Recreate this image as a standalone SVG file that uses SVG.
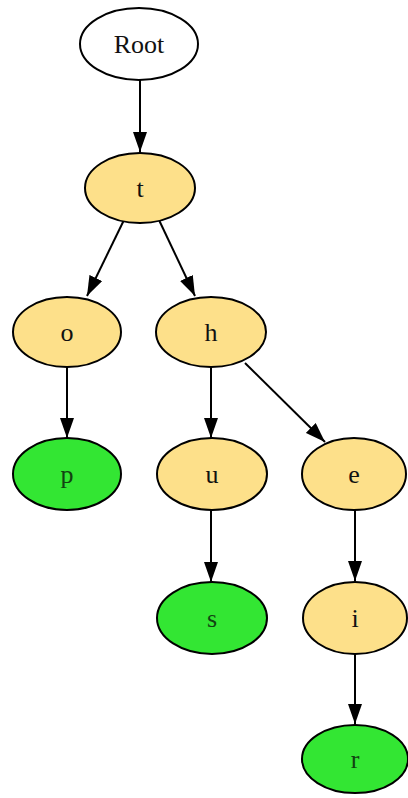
<svg xmlns="http://www.w3.org/2000/svg" width="408" height="798" viewBox="0 0 408 798">
<defs>
<style>
.n{stroke:#000;stroke-width:2}
.w{fill:#fff}
.y{fill:#fde08a}
.g{fill:#33e633}
text{font-family:"Liberation Serif","Times New Roman",serif;font-size:26px;text-anchor:middle;dominant-baseline:central;fill:#111}
.gt{fill:#124212}
.e{stroke:#000;stroke-width:2;fill:none;marker-end:url(#ah)}
</style>
<marker id="ah" markerUnits="userSpaceOnUse" markerWidth="20" markerHeight="14" refX="20" refY="7" orient="auto">
<path d="M0,0 L20,7 L0,14 z" fill="#000"/>
</marker>
</defs>
<g id="edges">
<line class="e" x1="140" y1="80" x2="140" y2="152"/>
<line class="e" x1="124" y1="220" x2="87" y2="296"/>
<line class="e" x1="159" y1="220" x2="195" y2="296"/>
<line class="e" x1="67" y1="367" x2="67" y2="438"/>
<line class="e" x1="211" y1="368" x2="211" y2="438"/>
<line class="e" x1="245" y1="363" x2="325" y2="442"/>
<line class="e" x1="211" y1="510" x2="211" y2="582"/>
<line class="e" x1="355" y1="510" x2="355" y2="581"/>
<line class="e" x1="355" y1="653" x2="355" y2="724"/>
</g>
<g id="root"><ellipse class="n w" cx="139" cy="44" rx="59" ry="36"/><text x="139" y="44">Root</text></g>
<g id="t"><ellipse class="n y" cx="140" cy="188" rx="55" ry="35"/><text x="140" y="188">t</text></g>
<g id="o"><ellipse class="n y" cx="67" cy="332" rx="54" ry="35"/><text x="67" y="332">o</text></g>
<g id="h"><ellipse class="n y" cx="211" cy="332" rx="55" ry="35"/><text x="211" y="332">h</text></g>
<g id="p"><ellipse class="n g" cx="67" cy="474" rx="54" ry="36"/><text class="gt" x="67" y="474">p</text></g>
<g id="u"><ellipse class="n y" cx="212" cy="474" rx="55" ry="36"/><text x="212" y="474">u</text></g>
<g id="e"><ellipse class="n y" cx="354" cy="474" rx="52" ry="36"/><text x="354" y="474">e</text></g>
<g id="s"><ellipse class="n g" cx="212" cy="618" rx="55" ry="36"/><text class="gt" x="212" y="618">s</text></g>
<g id="i"><ellipse class="n y" cx="355" cy="618" rx="52" ry="36"/><text x="355" y="618">i</text></g>
<g id="r"><ellipse class="n g" cx="355" cy="759" rx="53" ry="34"/><text class="gt" x="355" y="759">r</text></g>
</svg>
